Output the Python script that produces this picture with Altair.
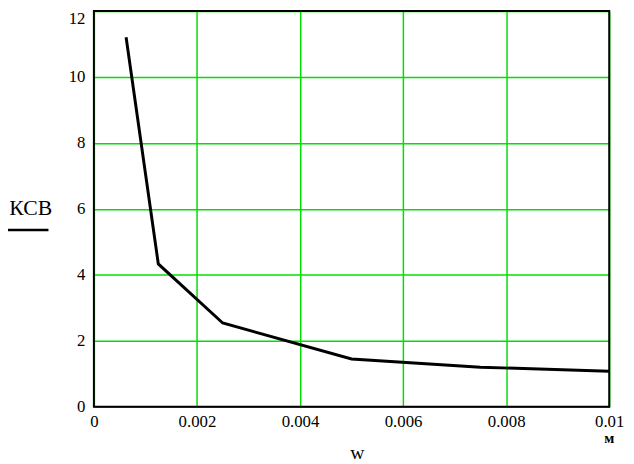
import altair as alt
import pandas as pd

# data
w_values = [0.000625, 0.00125, 0.0025, 0.005, 0.0075, 0.01]
ksv_values = [11.2, 4.33, 2.54, 1.45, 1.2, 1.08]
x_ticks = [0, 0.002, 0.004, 0.006, 0.008, 0.01]
y_ticks = [0, 2, 4, 6, 8, 10, 12]

W = 522
H = 401
FONT = "Liberation Serif"
GRID = "#00e000"

df = pd.DataFrame({"w": w_values, "ksv": ksv_values})

common_axis = dict(
    title=None, labelFont=FONT, labelFontSize=17, labelColor="black",
    labelFlush=False, grid=True, gridColor=GRID, gridWidth=1.5, gridOpacity=1,
    ticks=False, domain=False,
)

x_enc = alt.X(
    "w:Q",
    scale=alt.Scale(domain=[0, 0.01], nice=False, zero=False),
    axis=alt.Axis(values=x_ticks, format="~g", labelPadding=7, **common_axis),
)
y_enc = alt.Y(
    "ksv:Q",
    scale=alt.Scale(domain=[0, 12], nice=False, zero=False),
    axis=alt.Axis(
        values=y_ticks,
        labelPadding=9,
        labelBaseline={"condition": {"test": "datum.value == 12", "value": "top"}, "value": "middle"},
        **common_axis,
    ),
)

line = alt.Chart(df).mark_line(color="black", strokeWidth=3).encode(x=x_enc, y=y_enc)

one = pd.DataFrame({"k": [0]})
frame = alt.Chart(one).mark_rect(fill=None, stroke="black", strokeWidth=2).encode(
    x=alt.value(0), x2=alt.value(W), y=alt.value(0), y2=alt.value(H)
)

ytitle = alt.Chart(one).mark_text(
    font=FONT, fontSize=22, color="black", align="center", baseline="alphabetic"
).encode(x=alt.value(-64), y=alt.value(207), text=alt.value("КСВ"))

yline = alt.Chart(one).mark_rule(color="black", strokeWidth=2.5).encode(
    x=alt.value(-95), x2=alt.value(-46), y=alt.value(222)
)

xtitle = alt.Chart(one).mark_text(
    font=FONT, fontSize=20, color="black", align="center", baseline="alphabetic"
).encode(x=alt.value(267), y=alt.value(454), text=alt.value("w"))

unit = alt.Chart(one).mark_text(
    font=FONT, fontSize=15, fontWeight="bold", color="black", align="center",
    baseline="alphabetic"
).encode(x=alt.value(522), y=alt.value(438), text=alt.value("м"))

chart = (
    alt.layer(line, frame, ytitle, yline, xtitle, unit)
    .properties(
        width=W,
        height=H,
        background="white",
        autosize=alt.AutoSizeParams(type="none"),
        padding={"left": 87, "top": 0, "right": 17, "bottom": 55},
    )
    .configure_view(stroke=None)
)

chart.save("out.html", embed_options={"renderer": "svg", "actions": False})
